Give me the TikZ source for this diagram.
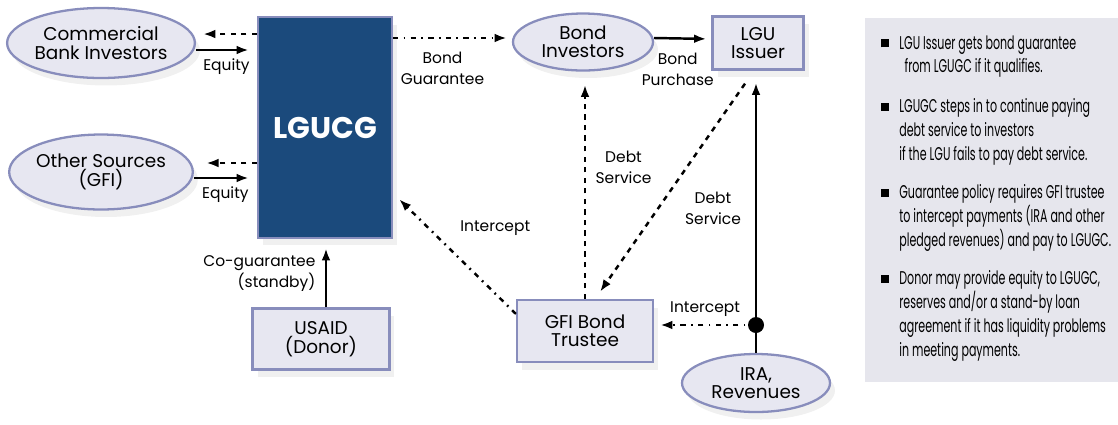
\documentclass[tikz,border=0pt]{standalone}
\usepackage{fontspec}
\setmainfont{Poppins}
\newfontfamily\notefont[FakeStretch=0.6]{Poppins}
\usetikzlibrary{shapes.geometric,shadows,arrows.meta}

\definecolor{oval}{RGB}{231,231,241}
\definecolor{rim}{RGB}{136,141,188}
\definecolor{navy}{RGB}{27,74,124}
\definecolor{panel}{RGB}{230,230,237}

\tikzset{
  party/.style={ellipse,draw=rim,fill=oval,line width=1.3pt,inner sep=0pt,align=center,
    font=\fontsize{10.5}{10.5}\selectfont,drop shadow={opacity=0.12,shadow xshift=0.1cm,shadow yshift=-0.15cm}},
  office/.style={rectangle,draw=rim,fill=oval,line width=1.3pt,inner sep=0pt,align=center,
    font=\fontsize{10.5}{10.5}\selectfont,drop shadow={opacity=0.12,shadow xshift=0.1cm,shadow yshift=-0.15cm}},
  tag/.style={align=center,font=\fontsize{8.8}{12}\selectfont},
  flow/.style={-{Latex[length=7pt,width=5pt]},line width=1.4pt},
  owed/.style={-{Latex[length=7pt,width=5pt]},line width=1.4pt,dash pattern=on 3pt off 3pt},
  tapped/.style={-{Latex[length=7pt,width=5pt]},line width=1.4pt,dash pattern=on 3pt off 3pt on 1pt off 3pt},
  note/.style={anchor=north west,inner sep=0pt,align=left,font=\notefont\fontsize{10.5}{13.6}\selectfont}
}
\newcommand\notebullet{\llap{\raisebox{1pt}{\rule{4.5pt}{4.5pt}}\hspace{6pt}}}

\begin{document}
\begin{tikzpicture}[x=0.02cm,y=-0.02cm]
\useasboundingbox(0,0)rectangle(1118,424);
\fill[panel](865,18)rectangle(1118,382);

% parties and offices
\node[party,minimum width=3.64cm,minimum height=1.4cm](bank)at(101,43){Commercial\\Bank Investors};
\node[party,minimum width=3.64cm,minimum height=1.5cm](other)at(101,172){Other Sources\\(GFI)};
\node[rectangle,draw=rim,fill=navy,line width=1.3pt,minimum width=2.68cm,minimum height=4.42cm,
  text=white,font=\fontsize{17}{17}\selectfont\bfseries,
  drop shadow={opacity=0.12,shadow xshift=0.1cm,shadow yshift=-0.15cm}](lgucg)at(325,127.5){LGUCG};
\node[party,minimum width=2.8cm,minimum height=1.14cm](bondinv)at(583,42){Bond\\Investors};
\node[office,minimum width=1.82cm,minimum height=1.06cm](issuer)at(758,43){LGU\\Issuer};
\node[office,minimum width=2.72cm,minimum height=1.24cm](trustee)at(585,331){GFI Bond\\Trustee};
\node[party,minimum width=2.96cm,minimum height=1.16cm](ira)at(756,383){IRA,\\Revenues};
\node[office,minimum width=2.74cm,minimum height=1.22cm](usaid)at(321,339){USAID\\(Donor)};

% equity in, guarantee out
\draw[owed]([yshift=0.18cm]lgucg.west|-bank)--([yshift=0.18cm,xshift=4pt]bank.east);
\draw[flow,shorten >=0.16cm]([yshift=-0.14cm]bank.east)--([yshift=-0.14cm]lgucg.west|-bank)
  node[midway,below=1pt,tag]{Equity};
\draw[owed]([yshift=0.18cm]lgucg.west|-other)--([yshift=0.18cm,xshift=7pt]other.east);
\draw[flow,shorten >=0.16cm]([yshift=-0.12cm]other.east)--([yshift=-0.12cm]lgucg.west|-other)
  node[midway,below=1pt,tag]{Equity};
\draw[tapped,shorten >=0.1cm]([yshift=0.08cm]lgucg.east|-bondinv)--([yshift=0.08cm]bondinv.west)
  node[midway,below=4pt,xshift=-0.2cm,tag]{Bond\\Guarantee};
\draw[flow,shorten >=0.1cm]([yshift=0.08cm]bondinv.east)--([yshift=0.08cm]issuer.west)
  node[midway,below=4pt,xshift=-0.1cm,tag]{Bond\\Purchase};

% debt service
\draw[owed,shorten >=0.26cm](trustee.north)--(trustee.north|-bondinv.south)
  node[pos=0.58,right=2pt,tag]{Debt\\Service};
\draw[owed]([xshift=-0.26cm,yshift=-0.26cm]issuer.south)--([xshift=0.3cm,yshift=0.14cm]trustee.north)
  node[pos=0.6,right=0.4cm,tag]{Debt\\Service};

% revenues and intercepts
\draw[flow,shorten >=0.24cm](ira.north)--(ira.north|-issuer.south);
\coordinate(tap)at([yshift=0.12cm]ira.north|-trustee.east);
\fill(tap)circle(0.16cm);
\draw[tapped,shorten >=0.12cm](tap)--(tap-|trustee.east)node[midway,above=1pt,tag]{Intercept};
\draw[tapped]([yshift=-0.3cm]trustee.north west)--([xshift=0.12cm,yshift=0.8cm]lgucg.south east)
  node[pos=0.75,right=0.5cm,tag]{Intercept};
\draw[flow,shorten >=0.18cm]([xshift=0.1cm]usaid.north)--([xshift=0.1cm]usaid.north|-lgucg.south)
  node[midway,left=2pt,align=right,font=\fontsize{8.8}{12}\selectfont]{Co-guarantee\\(standby)};

% side notes
\node[note](note1)at(899,35){\notebullet LGU Issuer gets bond guarantee\\\hspace{3pt}from LGUGC if it qualifies.};
\node[note](note2)at(899,98){\notebullet LGUGC steps in to continue paying\\debt service to investors\\if the LGU fails to pay debt service.};
\node[note](note3)at(899,184){\notebullet Guarantee policy requires GFI trustee\\to intercept payments (IRA and other\\pledged revenues) and pay to LGUGC.};
\node[note](note4)at(899,270){\notebullet Donor may provide equity to LGUGC,\\reserves and/or a stand-by loan\\agreement if it has liquidity problems\\in meeting payments.};
\end{tikzpicture}
\end{document}
